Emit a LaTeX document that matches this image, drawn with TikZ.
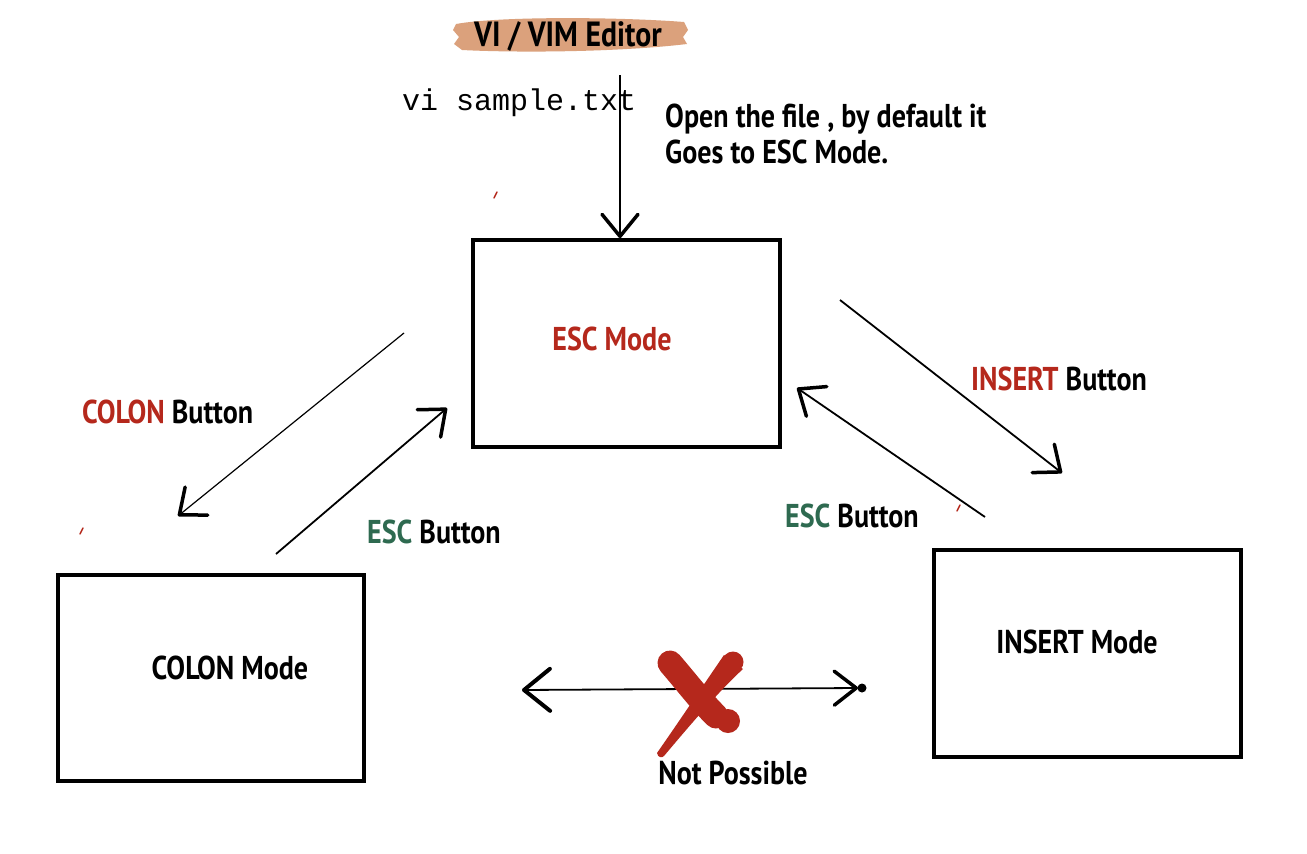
\documentclass[tikz,border=0pt]{standalone}
\usepackage{fontspec}
\usetikzlibrary{arrows.meta}
\newfontfamily\hand[FakeStretch=0.85]{PT Sans}
\setmonofont{Liberation Mono}
\definecolor{vred}{HTML}{B5281C}
\definecolor{vgreen}{HTML}{2E6A50}
\definecolor{banner}{HTML}{DBA17C}
\begin{document}
\begin{tikzpicture}[x=1pt,y=-1pt,
  modebox/.style={draw, line width=3.8pt, inner sep=0pt},
  lbl/.style={font=\hand\bfseries\fontsize{33}{36}\selectfont, inner sep=0pt},
  head/.style={-{Straight Barb[length=22pt,width=36pt,line width=3.5pt,round]}},
  conn/.style={line width=1.5pt, head},
  tick/.style={vred, line width=1.5pt, line cap=round}]
\fill[white] (0,0) rectangle (1307,854);
\useasboundingbox (0,0) rectangle (1307,854);

% title banner
\fill[banner] (456,24) .. controls (500,16) and (620,17) .. (684,22) -- (688,30) -- (683,37) -- (687,44)
  .. controls (620,52) and (520,53) .. (462,50) -- (454,44) -- (459,37) -- (453,30) -- cycle;
\node[lbl, font=\hand\bfseries\fontsize{35}{38}\selectfont] (title) at (568,36) {VI / VIM Editor};

% command and note
\node[inner sep=0pt, anchor=base west, font=\ttfamily\fontsize{30}{34}\selectfont] (cmd) at (402,110) {vi sample.txt};
\node[lbl, anchor=west, align=left] (note) at (665,134) {Open the file , by default it\\Goes to ESC Mode.};

% boxes
\node[modebox, minimum width=307pt, minimum height=207pt] (esc) at (626.5,343.5) {};
\node[modebox, minimum width=306pt, minimum height=206pt] (colon) at (211,678) {};
\node[modebox, minimum width=307pt, minimum height=207pt] (ins) at (1087.5,653.5) {};
\node[lbl, text=vred] (escl) at (612,339) {ESC Mode};
\node[lbl] (colonl) at (230,668) {COLON Mode};
\node[lbl] (insl) at (1077,642) {INSERT Mode};

% entry arrow
\coordinate (start) at (620,75);
\draw[conn] (start) -- (esc.north -| start);

% connectors
\coordinate (c1a) at (404,333); \coordinate (c1b) at (178,516);
\coordinate (c2a) at (276,554); \coordinate (c2b) at (447,408);
\coordinate (c3a) at (840,300); \coordinate (c3b) at (1062,473);
\coordinate (c4a) at (985,517); \coordinate (c4b) at (797,388);
\draw[conn, line width=1.2pt] (c1a) -- (c1b);
\draw[conn, line width=1.8pt] (c2a) -- (c2b);
\draw[conn, line width=1.8pt] (c3a) -- (c3b);
\draw[conn, line width=1.8pt] (c4a) -- (c4b);

\node[lbl, anchor=west] (lb1) at (82,412) {\textcolor{vred}{COLON} Button};
\node[lbl, anchor=west] (lb2) at (367,532) {\textcolor{vgreen}{ESC} Button};
\node[lbl, anchor=west] (lb3) at (971,379) {\textcolor{vred}{INSERT} Button};
\node[lbl, anchor=west] (lb4) at (785,516) {\textcolor{vgreen}{ESC} Button};

% not possible
\coordinate (hl) at (522,690); \coordinate (hr) at (858,688);
\draw[line width=1.8pt, {Straight Barb[length=26pt,width=42pt,line width=4pt,round]}-{Straight Barb[length=22pt,width=34pt,line width=3.5pt,round]}] (hl) -- (hr);
\fill (862,688) circle (4.5pt);
\draw[vred, line width=25pt, line cap=round] (670,663) .. controls (688,684) and (700,700) .. (716,716);
\fill[vred] (728,721) circle (12pt);
\fill[vred] (733,662) circle (10.5pt)
  (724,655) .. controls (700,690) and (680,720) .. (657,753)
  .. controls (658,758) and (662,758) .. (664,756)
  .. controls (690,725) and (720,690) .. (743,669) -- cycle;
\node[lbl] (np) at (733,773) {Not Possible};

% small red ticks
\draw[tick] (494,198) -- (497,192);
\draw[tick] (80,534) -- (83,528);
\draw[tick] (957,511) -- (960,505);
\end{tikzpicture}
\end{document}
